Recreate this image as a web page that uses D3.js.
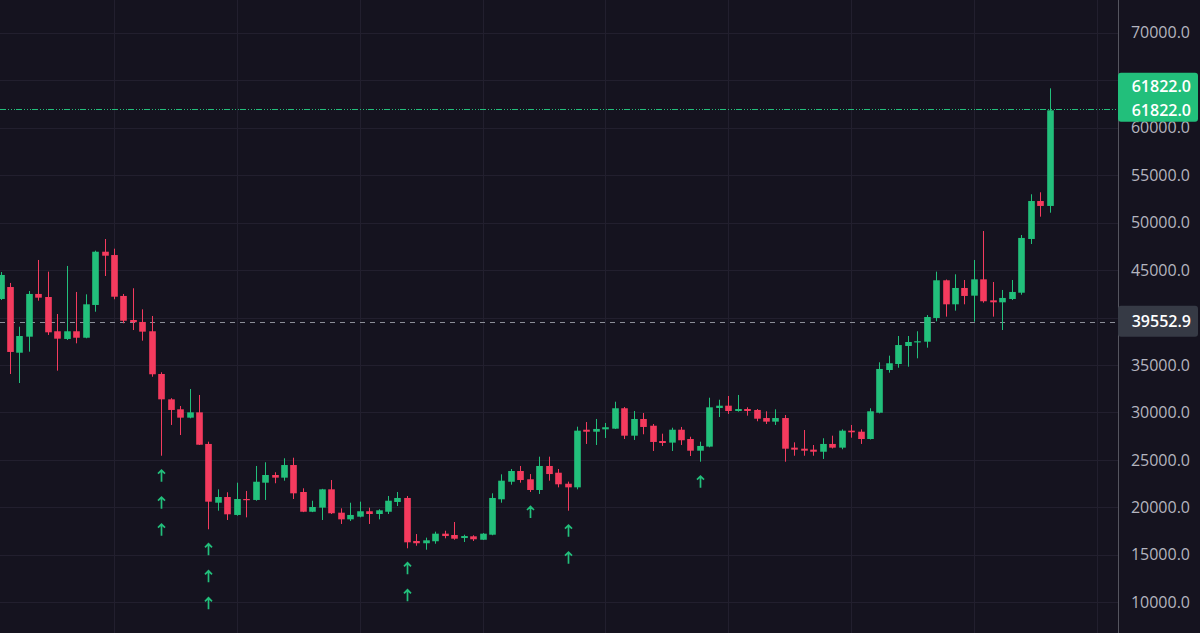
<!DOCTYPE html>
<html>
<head>
<meta charset="utf-8">
<script src="https://cdn.jsdelivr.net/npm/d3@7"></script>
<style>
	body { margin: 0; background: #15131f; }
	svg { display: block; font-family: "Open Sans", Roboto, sans-serif; }
	.tick-label { fill: #b4b5bf; font-size: 16px; }
	.price-label { fill: #fff; font-size: 16px; font-weight: 600; }
</style>
</head>
<body>
<svg id="chart" width="1200" height="633"></svg>
<script>
// weekly candles, oldest first
let opens = [41950, 43210, 36290, 37980, 42480, 42160, 38550, 37740, 38550, 37870, 41320, 46930, 46580, 42270, 39740, 39530, 38550, 34050, 31380, 30330, 29450, 30010, 26680, 20490, 21090, 19200, 20880, 20780, 22600, 23410, 23130, 24460, 21620, 19540, 19970, 21900, 19440, 18740, 19020, 19590, 19300, 19540, 20570, 20990, 16460, 16220, 16430, 17230, 17090, 16770, 16950, 16590, 17120, 20850, 22700, 23830, 22960, 21830, 24360, 23650, 22490, 22110, 28180, 27970, 28220, 28290, 30440, 27550, 29310, 28600, 26990, 26820, 28180, 27200, 25970, 26400, 30470, 30710, 30150, 30360, 30260, 29410, 29030, 29410, 26290, 26180, 26080, 25860, 26680, 26290, 28080, 27970, 27200, 29970, 34470, 35100, 37000, 37470, 37450, 39950, 43920, 41390, 43110, 42300, 44020, 41810, 41600, 41950, 42610, 48270, 52270, 51750]
let highs = [44790, 43640, 39030, 42790, 46060, 44830, 40370, 45430, 42690, 42440, 47040, 48270, 47250, 42480, 43080, 40860, 40160, 34230, 31500, 30680, 32470, 31840, 26920, 21900, 21590, 22600, 21730, 24360, 24750, 23700, 25170, 25230, 22010, 20700, 21950, 22880, 19900, 20490, 20600, 19970, 19800, 21200, 21620, 21200, 17190, 16810, 17440, 17540, 18460, 17120, 17060, 17300, 21480, 23480, 24040, 24360, 23510, 25340, 25340, 24040, 22710, 28500, 28990, 29310, 28890, 31130, 30570, 30150, 29940, 28780, 27760, 28390, 28470, 27440, 26920, 31550, 31340, 31730, 31840, 30540, 30360, 30120, 30330, 29730, 26850, 28150, 26570, 27280, 27550, 28220, 28680, 28220, 30440, 35280, 35980, 38050, 38050, 38550, 40260, 44830, 44000, 44550, 43950, 46060, 49110, 43740, 42900, 43950, 48690, 52980, 53190, 64140]
let lows = [41840, 34050, 33100, 36400, 41770, 38160, 34400, 37630, 37280, 37810, 40610, 44370, 41920, 39390, 38680, 37560, 33760, 25440, 28680, 27620, 29380, 26570, 17690, 19650, 18670, 19120, 18950, 20700, 20780, 22540, 22810, 20880, 19500, 19500, 18670, 19300, 18250, 18570, 18950, 18250, 18740, 19300, 20140, 15690, 15960, 15540, 16170, 16740, 16590, 16350, 16460, 16560, 17060, 20490, 22390, 22600, 21620, 21410, 22810, 22110, 19650, 21900, 26680, 26570, 27310, 28250, 27200, 27100, 27700, 25940, 26470, 25940, 26570, 25410, 24810, 26330, 29520, 29840, 30080, 29660, 29070, 28780, 28680, 24810, 25440, 25440, 25440, 25100, 26200, 26120, 27340, 26680, 27150, 29900, 34190, 34710, 34820, 35700, 36820, 39600, 40090, 40720, 41390, 39560, 41560, 40090, 38680, 41840, 42400, 47740, 50620, 51040]
let closes = [44480, 36370, 38050, 42480, 42090, 38440, 37770, 38550, 37870, 41390, 46930, 46510, 42190, 39660, 39500, 38510, 34020, 31380, 30260, 29450, 30010, 26600, 20600, 21090, 19270, 20880, 20780, 22700, 23410, 23130, 24460, 21480, 19540, 20040, 21900, 19380, 18740, 19200, 19590, 19300, 19690, 20700, 20990, 16320, 16220, 16530, 17230, 16980, 16700, 16980, 16640, 17230, 20990, 22810, 23830, 22880, 21830, 24360, 23510, 22430, 22110, 28080, 27970, 28260, 28440, 30440, 27550, 29310, 28470, 26890, 26780, 28180, 27070, 25970, 26470, 30540, 30710, 30150, 30360, 30150, 29340, 29030, 29410, 26180, 26080, 25970, 25860, 26680, 26290, 28080, 27910, 27200, 30120, 34580, 35180, 37100, 37420, 37500, 40050, 43920, 41390, 43110, 42270, 44020, 41710, 41600, 42060, 42690, 48380, 52270, 51750, 61822]

let gridPrices = [10000, 15000, 20000, 25000, 30000, 35000, 40000, 45000, 50000, 55000, 60000, 65000, 70000]
// 40000 and 65000 sit under the price badges
let labelPrices = [10000, 15000, 20000, 25000, 30000, 35000, 45000, 50000, 55000, 60000, 70000]
let gridBars = [12, 25, 38, 51, 64, 77, 90, 103, 116]
let signalBars = [17, 22, 43, 56, 60, 74]
let signalCounts = [3, 3, 2, 1, 2, 1]
let lastPrice = 61822
let markPrice = 39552.9

let up = '#22bf7b', down = '#f43b5e'
let svg = d3.select('#chart')
let plotRight = 1118

let x = d3.scaleLinear().domain([0, 111]).range([0.55, 1049.5])
let y = d3.scaleLinear().domain([10000, 70000]).range([602.3, 32.7])
let step = x(1) - x(0)
let bodyW = step * 0.7

let candles = opens.map((o, i) => ({ i: i, o: o, h: highs[i], l: lows[i], c: closes[i] }))

// grid
svg.append('g').selectAll('line').data(gridPrices).enter().append('line')
	.attr('x1', 0).attr('x2', plotRight)
	.attr('y1', d => Math.round(y(d)) + 0.5).attr('y2', d => Math.round(y(d)) + 0.5)
	.attr('stroke', '#221f2e')
svg.append('g').selectAll('line').data(gridBars).enter().append('line')
	.attr('x1', d => Math.round(x(d)) + 0.5).attr('x2', d => Math.round(x(d)) + 0.5)
	.attr('y1', 0).attr('y2', 633)
	.attr('stroke', '#221f2e')

// mark level
svg.append('line')
	.attr('x1', 0).attr('x2', plotRight)
	.attr('y1', Math.round(y(markPrice)) + 0.5).attr('y2', Math.round(y(markPrice)) + 0.5)
	.attr('stroke', '#8d8f99').attr('stroke-dasharray', '5,5')

// last price line: dash then dots
svg.append('line')
	.attr('x1', 0).attr('x2', plotRight)
	.attr('y1', Math.round(y(lastPrice)) - 0.5).attr('y2', Math.round(y(lastPrice)) - 0.5)
	.attr('stroke', up).attr('stroke-dasharray', '6,2,1,2,1,2,1,1')

let g = svg.append('g').selectAll('g.candle').data(candles).enter().append('g').attr('class', 'candle')
g.append('line')
	.attr('x1', d => Math.round(x(d.i)) + 0.5).attr('x2', d => Math.round(x(d.i)) + 0.5)
	.attr('y1', d => y(d.h)).attr('y2', d => y(d.l))
	.attr('stroke', d => d.c >= d.o ? up : down)
g.append('rect')
	.attr('x', d => Math.round(x(d.i)) + 0.5 - bodyW / 2)
	.attr('width', bodyW)
	.attr('y', d => y(Math.max(d.o, d.c)))
	.attr('height', d => Math.max(1.2, Math.abs(y(d.o) - y(d.c))))
	.attr('fill', d => d.c >= d.o ? up : down)

// up arrows under the signal bars
let arrows = []
signalBars.forEach((b, k) => d3.range(signalCounts[k]).forEach(j => arrows.push({ i: b, top: y(lows[b]) + 14 + j * 27 })))
svg.append('g').selectAll('path').data(arrows).enter().append('path')
	.attr('transform', d => 'translate(' + [Math.round(x(d.i)) + 0.5, d.top] + ')')
	.attr('d', 'M0,0.5L0,12M-3.5,4L0,0.5L3.5,4')
	.attr('fill', 'none').attr('stroke', up).attr('stroke-width', 1.7)

// right price scale
svg.append('line')
	.attr('x1', plotRight + 0.5).attr('x2', plotRight + 0.5).attr('y1', 0).attr('y2', 633)
	.attr('stroke', '#55555f')
svg.append('g').selectAll('text').data(labelPrices).enter().append('text')
	.attr('class', 'tick-label')
	.attr('x', 1190).attr('y', d => y(d)).attr('dy', '0.35em')
	.attr('text-anchor', 'end')
	.text(d => d3.format('.1f')(d))

let badge = (top, h, color, lines) => {
	svg.append('rect').attr('x', plotRight).attr('y', top).attr('width', 80).attr('height', h).attr('rx', 3).attr('fill', color)
	lines.forEach(l => svg.append('text').attr('class', 'price-label')
		.attr('x', 1191).attr('y', l.y).attr('dy', '0.35em').attr('text-anchor', 'end').text(d3.format('.1f')(l.v)))
}
badge(y(lastPrice) - 37.5, 49, up, [{ v: lastPrice, y: y(lastPrice) - 24 }, { v: lastPrice, y: y(lastPrice) }])
badge(y(markPrice) - 16, 31, '#363a45', [{ v: markPrice, y: y(markPrice) }])
</script>
</body>
</html>
